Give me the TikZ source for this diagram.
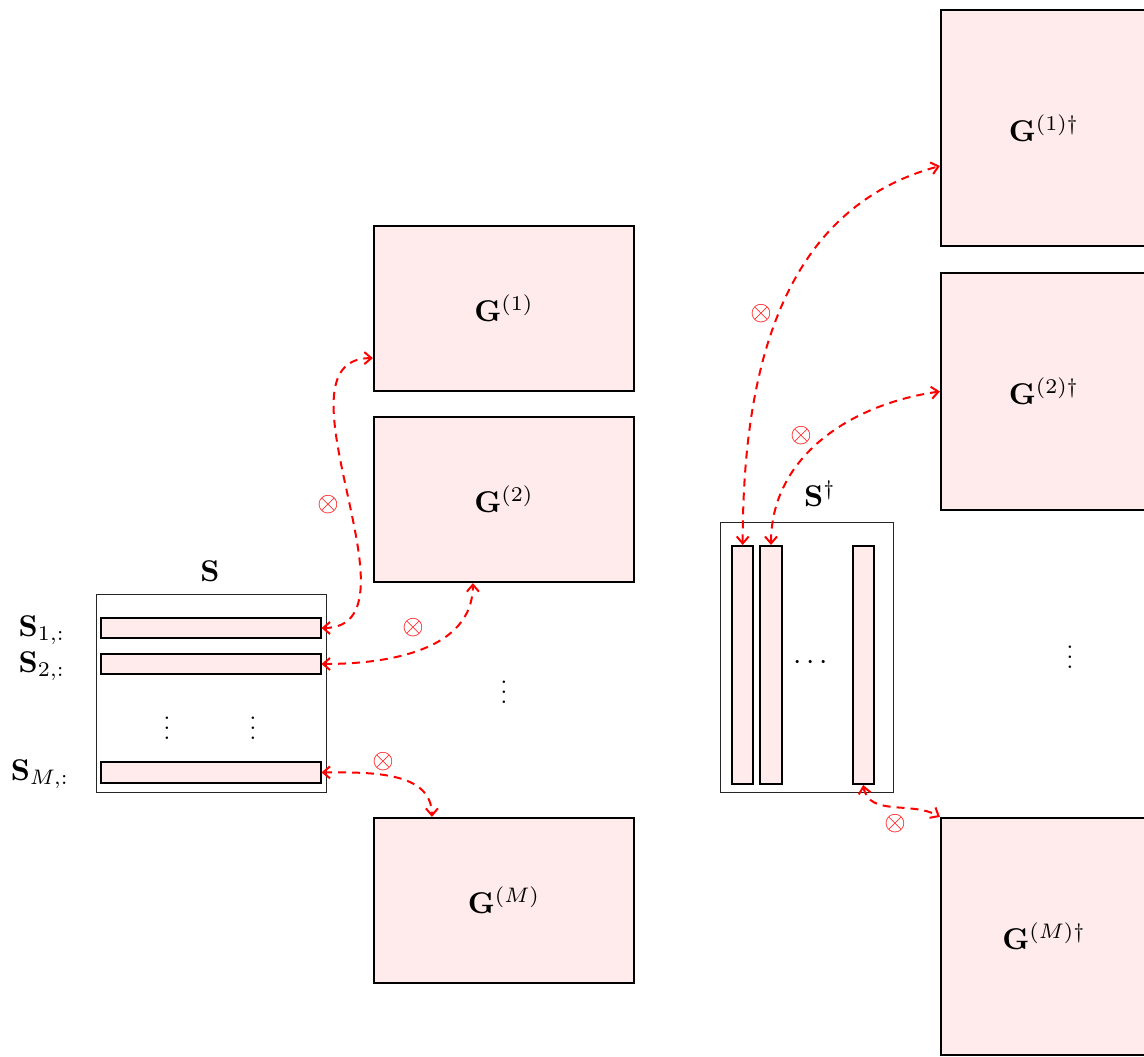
\documentclass[tikz,border=0pt]{standalone}
\usepackage{amsmath}
\usepackage{graphicx}
\usetikzlibrary{arrows.meta}
\newcommand{\bigtxt}[1]{\scalebox{3.0}{#1}}
\newcommand{\dotstxt}[1]{\scalebox{2.4}{#1}}
\newcommand{\optxt}[1]{\scalebox{2.75}{#1}}
\begin{document}
\begin{tikzpicture}[x=1pt,y=1pt,
  gbox/.style={draw=black, line width=2.2pt, fill=red!8, rectangle, inner sep=0pt},
  rowbox/.style={draw=black, line width=2pt, fill=red!8, rectangle, inner sep=0pt, minimum width=219.5pt, minimum height=20.5pt},
  colbox/.style={draw=black, line width=2pt, fill=red!8, rectangle, inner sep=0pt, minimum width=21.3pt, minimum height=238pt},
  outerbox/.style={draw=black!85, line width=1pt, rectangle, inner sep=0pt},
  mult/.style={{Straight Barb[length=7pt,width=12pt]}-{Straight Barb[length=7pt,width=12pt]}, red, line width=2pt, dash pattern=on 8pt off 6pt},
  otimeslbl/.style={text=red, inner sep=0pt},
  txt/.style={inner sep=0pt}
]
\useasboundingbox (0,0) rectangle (1144,-1057);
\clip (0,0) rectangle (1144,-1057);

% left matrix S
\node[outerbox, minimum width=230pt, minimum height=198pt] (S) at (211,-693) {};
\node[txt] (Stitle) at (210,-571) {\bigtxt{$\mathbf{S}$}};
\node[rowbox] (r1) at (210.75,-628) {};
\node[rowbox] (r2) at (210.75,-664) {};
\node[rowbox] (rM) at (210.75,-772.4) {};
\node[txt] (l1) at (42,-630) {\bigtxt{$\mathbf{S}_{1,:}$}};
\node[txt] (l2) at (42,-666) {\bigtxt{$\mathbf{S}_{2,:}$}};
\node[txt] (lM) at (40,-774) {\bigtxt{$\mathbf{S}_{M,:}$}};
\node[txt] (vd1) at (167,-721) {\dotstxt{$\vdots$}};
\node[txt] (vd2) at (253,-721) {\dotstxt{$\vdots$}};

% G boxes
\node[gbox, minimum width=260pt, minimum height=165pt] (G1) at (504,-308.5) {\bigtxt{$\mathbf{G}^{(1)}$}};
\node[gbox, minimum width=260pt, minimum height=165pt] (G2) at (504,-499.5) {\bigtxt{$\mathbf{G}^{(2)}$}};
\node[gbox, minimum width=260pt, minimum height=165pt] (GM) at (504,-900.5) {\bigtxt{$\mathbf{G}^{(M)}$}};
\node[txt] (vd3) at (504,-685) {\dotstxt{$\vdots$}};

% right matrix S dagger
\node[outerbox, minimum width=173pt, minimum height=270pt] (Sd) at (806.5,-657.7) {};
\node[txt] (Sdtitle) at (820,-494) {\bigtxt{$\mathbf{S}^{\dagger}$}};
\node[colbox] (c1) at (742.7,-665) {};
\node[colbox] (c2) at (771,-665) {};
\node[colbox] (c3) at (863.2,-665) {};
\node[txt] (cd) at (813,-663) {\bigtxt{$\cdots$}};

% G dagger boxes
\node[gbox, minimum width=206pt, minimum height=236pt] (G1d) at (1044,-128) {\bigtxt{$\mathbf{G}^{(1)\dagger}$}};
\node[gbox, minimum width=206pt, minimum height=237pt] (G2d) at (1044,-391.5) {\bigtxt{$\mathbf{G}^{(2)\dagger}$}};
\node[gbox, minimum width=206pt, minimum height=237pt] (GMd) at (1044,-936.5) {\bigtxt{$\mathbf{G}^{(M)\dagger}$}};
\node[txt] (vd4) at (1070,-650) {\dotstxt{$\vdots$}};

% connectors
\draw[mult] (r1.east) to[out=0,in=180] ([yshift=34pt]G1.south west);
\draw[mult] (r2.east) to[out=0,in=-90] ([xshift=100pt]G2.south west);
\draw[mult] (rM.east) to[out=0,in=90] ([xshift=59pt]GM.north west);
\draw[mult] (c1.north) to[out=90,in=195] ([yshift=-38pt]G1d.west);
\draw[mult] (c2.north) to[out=90,in=188] (G2d.west);
\draw[mult] (c3.south) to[out=-80,in=150] (GMd.north west);

% otimes labels
\node[otimeslbl] (o1) at (328,-505) {\optxt{$\otimes$}};
\node[otimeslbl] (o2) at (413,-628) {\optxt{$\otimes$}};
\node[otimeslbl] (o3) at (383,-762) {\optxt{$\otimes$}};
\node[otimeslbl] (o4) at (761,-314) {\optxt{$\otimes$}};
\node[otimeslbl] (o5) at (801,-436) {\optxt{$\otimes$}};
\node[otimeslbl] (o6) at (895,-824) {\optxt{$\otimes$}};
\end{tikzpicture}
\end{document}
